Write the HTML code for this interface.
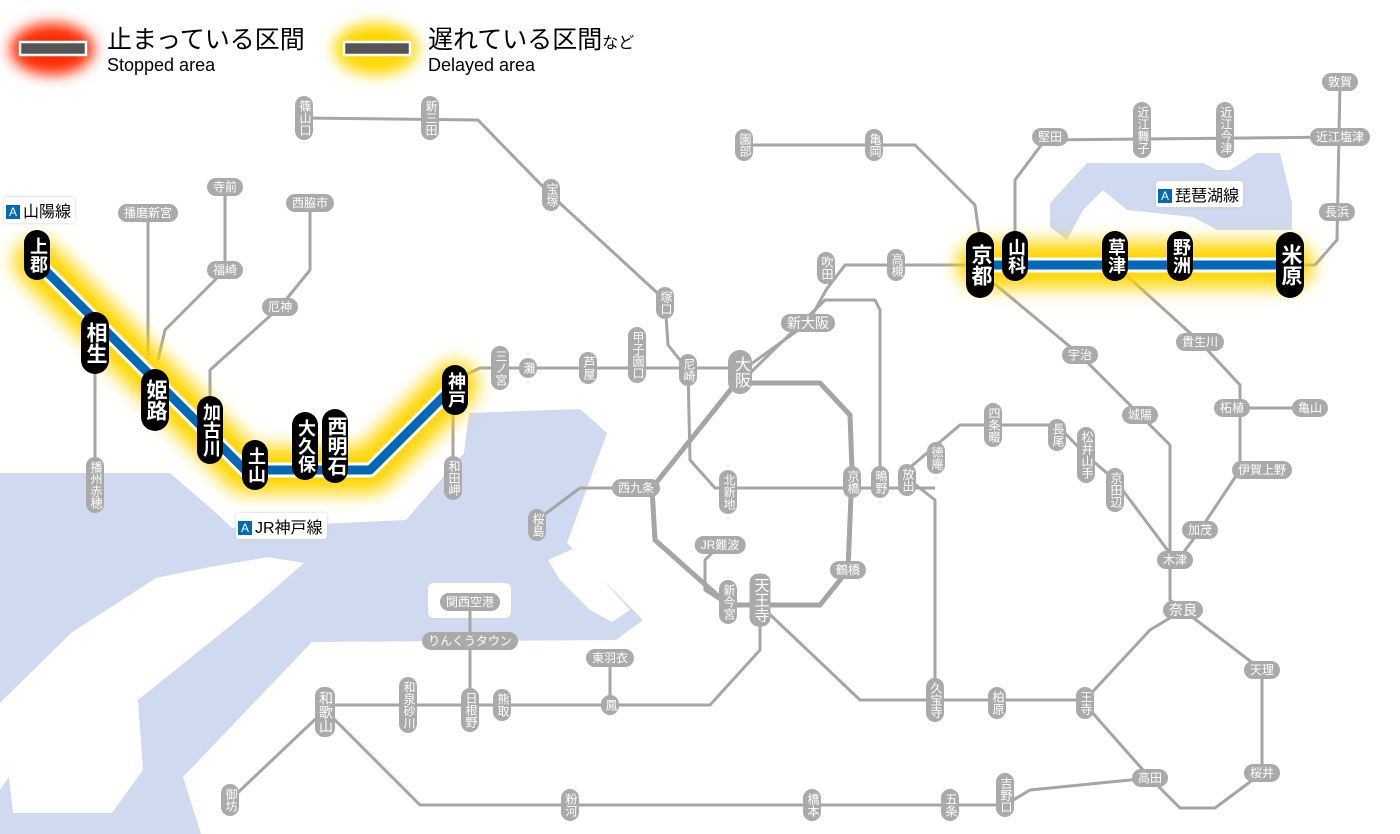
<!DOCTYPE html>
<html><head><meta charset="utf-8"><style>
body{margin:0;background:#fff}
#w{position:relative;width:1400px;height:834px;overflow:hidden;font-family:"Liberation Sans","Noto Sans CJK JP",sans-serif}
svg{position:absolute;left:0;top:0}
.s,.h,.b{position:absolute;transform:translate(-50%,-50%);color:#fff;white-space:nowrap;text-align:center}
.s{background:#aaa;font-size:12px;line-height:13px;border-radius:9px;padding:4px 2px;writing-mode:vertical-rl;width:14px}
.h{background:#aaa;font-size:12px;line-height:14px;border-radius:9px;padding:2px 6px}
.b{background:#000;font-size:18px;line-height:19px;border-radius:14px;padding:7px 3px;writing-mode:vertical-rl;width:20px;font-weight:bold}
.lab{position:absolute;background:#fff;font-size:16px;padding:1px 4px 1px 2px;border-radius:3px;color:#000;box-shadow:0 0 3px #ccc;white-space:nowrap}
.lab i{display:inline-block;background:#0068b7;color:#fff;font-style:normal;font-size:12px;width:14px;line-height:14px;text-align:center;margin-right:3px;vertical-align:1px}
.t1{position:absolute;font-size:25px;line-height:28px;color:#000;white-space:nowrap}
.t2{position:absolute;font-size:18px;line-height:20px;color:#000;white-space:nowrap}
</style></head><body><div id="w">
<svg width="1400" height="834" viewBox="0 0 1400 834">
<defs>
<filter id="g" filterUnits="userSpaceOnUse" x="0" y="0" width="1400" height="834"><feGaussianBlur stdDeviation="9"/></filter>
<filter id="g2" filterUnits="userSpaceOnUse" x="0" y="0" width="600" height="120"><feGaussianBlur stdDeviation="7"/></filter>
</defs>
<path fill="#cfd9ef" d="M0,473 L170,473 L215,512 L232,528 L406,520 L464,453 L469,413 L580,409 L607,433 L567,543 L643,620 L616,640 L312,642 L183,777 L201,834 L0,834 Z"/>
<path fill="#fff" d="M268,557 L304,563 L250,610 L138,700 L143,770 L112,813 L13,813 L9,777 L0,790 L0,703 L71,633 L156,578 L210,567 Z"/>
<rect x="428" y="583" width="83" height="35" rx="6" fill="#fff"/>
<path fill="#fff" d="M548,560 L575,548 L630,610 L612,622 L590,610 L560,580 Z"/>
<path fill="#cfd9ef" d="M1087,163 L1203,163 L1217,170 L1230,170 L1257,153 L1280,153 L1292,203 L1292,230 L1217,230 L1193,217 L1127,210 L1103,190 L1083,210 L1067,240 L1050,227 L1050,203 Z"/>
<ellipse cx="52" cy="49" rx="42" ry="26" fill="#ff2a00" filter="url(#g2)"/>
<ellipse cx="376" cy="49" rx="42" ry="26" fill="#ffd800" filter="url(#g2)"/>
<rect x="20" y="42" width="66" height="13" fill="#555" stroke="#fff" stroke-width="2.5"/>
<rect x="344" y="42" width="66" height="13" fill="#555" stroke="#fff" stroke-width="2.5"/>
<g fill="none" stroke="#a5a5a5" stroke-width="3" stroke-linejoin="round">
<path d="M304,118 L478,120 L551,195 L665,300 L668,345 L688,370"/>
<path d="M744,145 L915,145 L975,205 L980,240"/>
<path d="M740,372 L808,323 L826,290 L845,265 L1015,265"/>
<path d="M745,378 L825,300 L875,300 L880,310 L880,470"/>
<path d="M465,375 L480,368 L740,368"/>
<path d="M688,370 L690,460 L715,488 L852,488 L935,488"/>
<path d="M907,470 L960,425 L1057,425 L1086,455 L1115,480 L1175,560"/>
<path d="M907,478 L935,500 L935,700 L1085,700 L1150,630 L1183,610"/>
<path d="M760,605 L860,700 L935,700"/>
<path d="M760,605 L760,650 L710,705 L325,705"/>
<path d="M720,545 L705,560 L705,590 L728,605"/>
<path d="M470,600 L470,705"/>
<path d="M610,658 L610,705"/>
<path d="M325,710 L230,800"/>
<path d="M325,710 L420,805 L1005,805 L1030,790 L1150,778"/>
<path d="M1090,710 L1150,778 L1180,808 L1215,808 L1262,773 L1262,670 L1183,610"/>
<path d="M1015,250 L1015,180 L1045,140 L1340,137"/>
<path d="M1340,82 L1337,240 L1315,265 L1290,265"/>
<path d="M990,280 L1080,355 L1140,415 L1170,445 L1170,600 L1183,610"/>
<path d="M1115,265 L1200,342 L1240,385 L1240,470 L1200,530 L1178,560"/>
<path d="M1240,408 L1310,408"/>
<path d="M148,213 L148,360"/>
<path d="M225,187 L225,270 L165,330 L158,360"/>
<path d="M310,203 L310,270 L280,307 L210,370 L210,400"/>
<path d="M95,370 L95,480"/>
<path d="M453,410 L453,478"/>
<path d="M580,488 L652,488"/>
<path d="M537,520 L580,488"/>
</g>
<g fill="none" stroke="#a5a5a5" stroke-width="5" stroke-linejoin="round">
<path d="M740,383 L820,383 L850,415 L852,470 L848,570 L820,605 L728,605 L700,580 L655,540 L652,488 L740,378"/>
</g>
<g fill="none" stroke-linejoin="round" stroke-linecap="round">
<path d="M37,262 L245,470 L370,470 L455,385" stroke="#ffd500" stroke-width="46" filter="url(#g)"/>
<path d="M980,265 L1290,265" stroke="#ffd500" stroke-width="46" filter="url(#g)"/>
<path d="M37,262 L245,470 L370,470 L455,385" stroke="#fff" stroke-width="15"/>
<path d="M980,265 L1290,265" stroke="#fff" stroke-width="15"/>
<path d="M37,262 L245,470 L370,470 L455,385" stroke="#0068b7" stroke-width="9"/>
<path d="M980,265 L1290,265" stroke="#0068b7" stroke-width="9"/>
</g>
</svg>
<div class="t1" style="left:107px;top:26px">止まっている区間</div>
<div class="t2" style="left:107px;top:55px">Stopped area</div>
<div class="t1" style="left:428px;top:26px">遅れている区間<span style="font-size:16px">など</span></div>
<div class="t2" style="left:428px;top:55px">Delayed area</div>
<div class="lab" style="left:4px;top:197px"><i>A</i>山陽線</div>
<div class="lab" style="left:236px;top:513px"><i>A</i>JR神戸線</div>
<div class="lab" style="left:1156px;top:181px"><i>A</i>琵琶湖線</div>
<div class="s" style="left:304px;top:118px">篠山口</div>
<div class="s" style="left:430px;top:118px">新三田</div>
<div class="s" style="left:551px;top:195px">宝塚</div>
<div class="s" style="left:665px;top:303px">塚口</div>
<div class="s" style="left:744px;top:145px">園部</div>
<div class="s" style="left:874px;top:145px">亀岡</div>
<div class="s" style="left:826px;top:268px">吹田</div>
<div class="s" style="left:896px;top:265px">高槻</div>
<div class="h" style="left:808px;top:323px;font-size:14px">新大阪</div>
<div class="s" style="left:500px;top:368px">三ノ宮</div>
<div class="s" style="left:528px;top:368px">灘</div>
<div class="s" style="left:588px;top:368px">芦屋</div>
<div class="s" style="left:637px;top:355px">甲子園口</div>
<div class="s" style="left:688px;top:370px">尼崎</div>
<div class="s" style="left:740px;top:372px;font-size:16px;line-height:17px;width:18px;padding:6px 3px;border-radius:12px">大阪</div>
<div class="h" style="left:636px;top:488px">西九条</div>
<div class="s" style="left:537px;top:525px">桜島</div>
<div class="s" style="left:728px;top:492px">北新地</div>
<div class="s" style="left:852px;top:482px">京橋</div>
<div class="s" style="left:880px;top:482px">鴫野</div>
<div class="s" style="left:907px;top:480px">放出</div>
<div class="s" style="left:936px;top:458px">徳庵</div>
<div class="s" style="left:993px;top:425px">四条畷</div>
<div class="s" style="left:1057px;top:435px">長尾</div>
<div class="s" style="left:1086px;top:455px">松井山手</div>
<div class="s" style="left:1115px;top:490px">京田辺</div>
<div class="h" style="left:720px;top:545px">JR難波</div>
<div class="h" style="left:848px;top:570px">鶴橋</div>
<div class="s" style="left:728px;top:602px">新今宮</div>
<div class="s" style="left:760px;top:600px;font-size:15px;line-height:16px;width:17px">天王寺</div>
<div class="h" style="left:470px;top:602px">関西空港</div>
<div class="h" style="left:470px;top:641px">りんくうタウン</div>
<div class="h" style="left:610px;top:658px">東羽衣</div>
<div class="s" style="left:610px;top:705px">鳳</div>
<div class="s" style="left:502px;top:705px">熊取</div>
<div class="s" style="left:470px;top:710px">日根野</div>
<div class="s" style="left:408px;top:705px">和泉砂川</div>
<div class="s" style="left:325px;top:712px;font-size:14px;line-height:15px;width:16px">和歌山</div>
<div class="s" style="left:230px;top:800px">御坊</div>
<div class="s" style="left:570px;top:805px">粉河</div>
<div class="s" style="left:812px;top:805px">橋本</div>
<div class="s" style="left:950px;top:805px">五条</div>
<div class="s" style="left:1005px;top:795px">吉野口</div>
<div class="h" style="left:1150px;top:778px">高田</div>
<div class="h" style="left:1262px;top:773px">桜井</div>
<div class="h" style="left:1262px;top:670px">天理</div>
<div class="h" style="left:1183px;top:610px;font-size:14px">奈良</div>
<div class="s" style="left:935px;top:700px">久宝寺</div>
<div class="s" style="left:997px;top:703px">柏原</div>
<div class="s" style="left:1085px;top:703px">王寺</div>
<div class="h" style="left:1175px;top:560px">木津</div>
<div class="h" style="left:1200px;top:530px">加茂</div>
<div class="h" style="left:1262px;top:470px">伊賀上野</div>
<div class="h" style="left:1232px;top:408px">柘植</div>
<div class="h" style="left:1310px;top:408px">亀山</div>
<div class="h" style="left:1200px;top:342px">貴生川</div>
<div class="h" style="left:1140px;top:415px">城陽</div>
<div class="h" style="left:1080px;top:355px">宇治</div>
<div class="h" style="left:1050px;top:137px">堅田</div>
<div class="s" style="left:1142px;top:130px">近江舞子</div>
<div class="s" style="left:1225px;top:130px">近江今津</div>
<div class="h" style="left:1340px;top:137px">近江塩津</div>
<div class="h" style="left:1340px;top:82px">敦賀</div>
<div class="h" style="left:1337px;top:212px">長浜</div>
<div class="h" style="left:148px;top:213px">播磨新宮</div>
<div class="h" style="left:225px;top:187px">寺前</div>
<div class="h" style="left:225px;top:270px">福崎</div>
<div class="h" style="left:310px;top:203px">西脇市</div>
<div class="h" style="left:280px;top:307px">厄神</div>
<div class="s" style="left:95px;top:485px">播州赤穂</div>
<div class="s" style="left:453px;top:478px">和田岬</div>
<div class="b" style="left:37px;top:255px">上郡</div>
<div class="b" style="left:95px;top:343px;font-size:21px;line-height:22px;width:22px;padding:10px 3px">相生</div>
<div class="b" style="left:155px;top:400px;font-size:21px;line-height:22px;width:22px;padding:10px 3px">姫路</div>
<div class="b" style="left:210px;top:430px">加古川</div>
<div class="b" style="left:255px;top:465px">土山</div>
<div class="b" style="left:305px;top:446px">大久保</div>
<div class="b" style="left:335px;top:446px;font-size:20px;line-height:21px">西明石</div>
<div class="b" style="left:455px;top:390px">神戸</div>
<div class="b" style="left:980px;top:265px;font-size:21px;line-height:22px;width:22px;padding:12px 3px">京都</div>
<div class="b" style="left:1015px;top:256px">山科</div>
<div class="b" style="left:1115px;top:256px">草津</div>
<div class="b" style="left:1180px;top:256px">野洲</div>
<div class="b" style="left:1290px;top:265px;font-size:21px;line-height:22px;width:22px;padding:12px 3px">米原</div>
</div></body></html>
